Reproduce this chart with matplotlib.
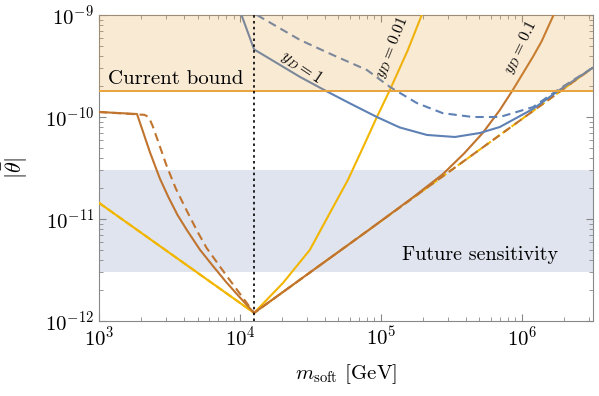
import numpy as np
import matplotlib
matplotlib.use("Agg")
import matplotlib.pyplot as plt
from matplotlib.ticker import LogLocator, NullFormatter

plt.rcParams['font.family'] = ['cmr10']
plt.rcParams['mathtext.fontset'] = 'cm'
plt.rcParams['axes.formatter.use_mathtext'] = True

# y_D = 1 (blue)
m_b = [1.0e4, 1.26e4, 2.67e4, 4.21e4, 6.03e4, 9.37e4, 1.36e5, 2.12e5, 3.35e5, 5.04e5, 6.98e5,
       1.2e6, 1.86e6, 3.2e6]
t_b = [1.1e-9, 4.6e-10, 2.47e-10, 1.76e-10, 1.36e-10, 1.0e-10, 7.9e-11, 6.67e-11, 6.37e-11, 6.97e-11, 7.98e-11,
       1.2e-10, 1.85e-10, 3.05e-10]
m_bd = [1.32e4, 2.67e4, 4.57e4, 7.96e4, 1.16e5, 1.8e5, 2.75e5, 4.49e5, 6.98e5, 1.2e6, 1.86e6, 3.2e6]
t_bd = [1.0e-9, 5.69e-10, 4.05e-10, 2.89e-10, 1.97e-10, 1.37e-10, 1.09e-10, 1.0e-10, 1.0e-10, 1.25e-10, 1.9e-10, 3.05e-10]

# y_D = 0.01 (yellow)
m_y = [1.0e3, 1.26e4, 2.02e4, 3.13e4, 4.87e4, 5.83e4, 7.4e4, 9.37e4, 1.16e5, 1.55e5, 1.95e5]
t_y = [1.44e-11, 1.2e-12, 2.36e-12, 4.97e-12, 1.53e-11, 2.41e-11, 4.9e-11, 1.0e-10, 1.85e-10, 4.5e-10, 1.0e-9]
m_yd = [1.0e3, 1.26e4, 3.2e6]
t_yd = [1.44e-11, 1.2e-12, 3.05e-10]

# y_D = 0.1 (brown)
m_r = [1.0e3, 1.86e3, 2.3e3, 2.7e3, 3.1e3, 3.6e3, 4.2e3, 5.2e3, 6.5e3, 8.0e3, 1.0e4, 1.26e4,
       3.0e4, 8.0e4, 1.69e5, 2.75e5, 3.9e5, 5.28e5, 6.98e5, 8.63e5, 1.2e6, 1.38e6, 1.68e6]
t_r = [1.12e-10, 1.07e-10, 4.5e-11, 2.5e-11, 1.65e-11, 1.1e-11, 7.8e-12, 5.0e-12, 3.4e-12, 2.4e-12, 1.7e-12, 1.2e-12,
       2.86e-12, 7.6e-12, 1.63e-11, 2.75e-11, 4.4e-11, 6.97e-11, 1.17e-10, 1.84e-10, 3.9e-10, 5.5e-10, 1.0e-9]
m_rd = [1.0e3, 2.1e3, 2.25e3, 2.4e3, 2.6e3, 3.0e3, 3.5e3, 4.2e3, 5.0e3, 5.8e3, 8.0e3, 1.0e4, 1.26e4, 3.2e6]
t_rd = [1.12e-10, 1.05e-10, 1.0e-10, 8.2e-11, 6.0e-11, 3.4e-11, 2.0e-11, 1.2e-11, 7.5e-12, 5.2e-12, 2.8e-12, 1.85e-12,
        1.2e-12, 3.05e-10]

bound = 1.8e-10
future = [3.0e-12, 3.0e-11]
m_star = 1.26e4

c_blue = "#5e81b5"
c_yel = "#f2b600"
c_brown = "#c0742e"
c_orange = "#e8a33d"

fig = plt.figure(figsize=(5.99, 3.96), dpi=100)
ax = fig.add_axes([0.1653, 0.1894, 0.8247, 0.7727])
ax.set_xscale("log")
ax.set_yscale("log")
ax.set_xlim(1e3, 3.2e6)
ax.set_ylim(1e-12, 1e-9)

ax.axhspan(future[0], future[1], color="#dfe4ee", zorder=0, lw=0)
ax.axhspan(bound, 1e-9, color=c_orange, alpha=0.22, zorder=5, lw=0)
ax.axhline(bound, color=c_orange, lw=1.4, zorder=6)

ax.plot(m_yd, t_yd, color=c_yel, lw=1.5, ls="--", zorder=3)
ax.plot(m_y, t_y, color=c_yel, lw=1.5, zorder=3)
ax.plot(m_rd, t_rd, color=c_brown, lw=1.5, ls=(0, (4, 2.5)), zorder=3)
ax.plot(m_r, t_r, color=c_brown, lw=1.5, zorder=3)
ax.plot(m_bd, t_bd, color=c_blue, lw=1.5, ls=(0, (4, 2.5)), zorder=3)
ax.plot(m_b, t_b, color=c_blue, lw=1.5, zorder=3)

ax.axvline(m_star, color="black", lw=1.2, ls=(0, (1.5, 2)), zorder=7)

ax.text(1.15e3, 2.36e-10, "Current bound", fontsize=15, va="center", ha="left", zorder=8)
ax.text(1.8e6, 4.4e-12, "Future sensitivity", fontsize=14.5, va="center", ha="right", zorder=8)
ax.text(2.76e4, 3.1e-10, r"$y_D = 1$", fontsize=12, rotation=-34, ha="center", va="center", zorder=8)
ax.text(1.2e5, 4.8e-10, r"$y_D = 0.01$", fontsize=11.5, rotation=68, ha="center", va="center", zorder=8)
ax.text(0.98e6, 4.8e-10, r"$y_D = 0.1$", fontsize=11.5, rotation=64, ha="center", va="center", zorder=8)

ax.set_xlabel(r"$m_{\rm soft}$ [GeV]", fontsize=15, labelpad=9)
ax.set_ylabel(r"$|\bar{\theta}|$", fontsize=16)
ax.yaxis.set_label_coords(-0.14, 0.5)

ax.xaxis.set_major_locator(LogLocator(base=10, numticks=10))
ax.xaxis.set_minor_locator(LogLocator(base=10, subs=np.arange(2, 10), numticks=20))
ax.yaxis.set_major_locator(LogLocator(base=10, numticks=10))
ax.yaxis.set_minor_locator(LogLocator(base=10, subs=np.arange(2, 10), numticks=20))
ax.xaxis.set_minor_formatter(NullFormatter())
ax.yaxis.set_minor_formatter(NullFormatter())
ax.tick_params(which="both", direction="in", top=True, right=True, color="#888888", labelsize=15)
ax.tick_params(which="major", length=5)
ax.tick_params(which="minor", length=3)
for s in ax.spines.values():
    s.set_color("#888888")

fig.savefig("out.png", dpi=100)
